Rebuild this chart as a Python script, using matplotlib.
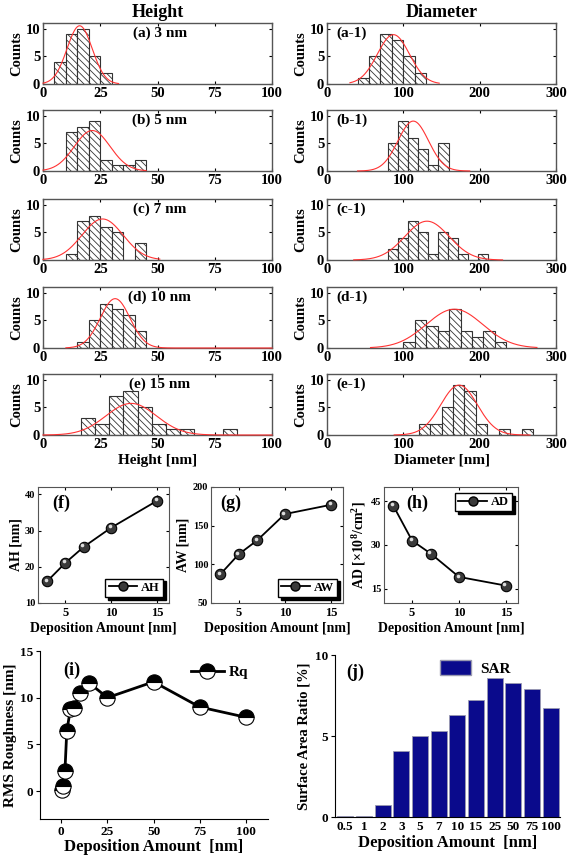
import numpy as np
import matplotlib
matplotlib.use("Agg")
import matplotlib.pyplot as plt
from matplotlib import transforms
from matplotlib.lines import Line2D
from matplotlib.patches import Patch

plt.rcParams["font.family"] = "Liberation Serif"
plt.rcParams["font.weight"] = "bold"
plt.rcParams["axes.labelweight"] = "bold"
plt.rcParams["axes.titleweight"] = "bold"
plt.rcParams["mathtext.fontset"] = "custom"
plt.rcParams["mathtext.rm"] = "Liberation Serif"
plt.rcParams["mathtext.bf"] = "Liberation Serif:bold"
plt.rcParams["hatch.linewidth"] = 0.6
plt.rcParams["hatch.color"] = "#303030"

# --- Data: height histograms (left column) ---
height_labels = ["(a) 3 nm", "(b) 5 nm", "(c) 7 nm", "(d) 10 nm", "(e) 15 nm"]
height_bin0 = [5, 10, 10, 15, 16.5]
height_binw = [5, 5, 5, 5, 6.2]
height_counts = [
    [4, 9, 10, 5, 2],
    [7, 8, 9, 2, 1, 1, 2],
    [1, 7, 8, 6, 5, 0, 3],
    [1, 5, 8, 7, 6, 3],
    [3, 2, 7, 8, 5, 2, 1, 1, 0, 0, 1],
]
# gaussian fit: centre, sigma, amplitude, drawn from, drawn to
height_fit = [
    (16.0, 5.5, 10.5, 0, 33),
    (21.5, 7.8, 7.3, 0, 45),
    (26.0, 9.0, 7.4, 0, 51),
    (31.5, 6.5, 8.9, 10, 100),
    (38.5, 11.0, 5.7, 0, 100),
]

# --- Data: diameter histograms (right column) ---
diam_labels = ["(a-1)", "(b-1)", "(c-1)", "(d-1)", "(e-1)"]
diam_bin0 = [40, 80, 79.5, 100, 120]
diam_binw = [15, 13.2, 13.1, 15, 15]
diam_counts = [
    [1, 5, 9, 8, 5, 2],
    [5, 9, 6, 4, 1, 5],
    [2, 4, 7, 5, 1, 5, 4, 1, 0, 1],
    [1, 5, 4, 3, 7, 3, 2, 3, 1],
    [2, 2, 5, 9, 8, 2, 0, 1, 0, 1],
]
diam_fit = [
    (87, 21, 8.9, 30, 147),
    (113, 20, 9.0, 40, 187),
    (131, 29, 7.0, 35, 230),
    (167, 37, 7.0, 57, 275),
    (173, 24, 9.0, 88, 266),
]

# --- Data: averages vs deposition amount ---
dep = [3, 5, 7, 10, 15]
AH = [16.0, 21.1, 25.5, 30.8, 38.2]
AH_err = [0.6, 0.7, 0.8, 1.0, 1.6]
AW = [87, 113, 131, 165, 177]
AW_err = [3, 4, 5, 7, 7]
AD = [43.5, 31.5, 27.0, 19.0, 16.0]
AD_err = [1.5, 1.0, 1.0, 0.8, 0.8]

# --- Data: roughness and surface area ratio ---
dep_all = [0.5, 1, 2, 3, 5, 7, 10, 15, 25, 50, 75, 100]
dep_all_labels = ["0.5", "1", "2", "3", "5", "7", "10", "15", "25", "50", "75", "100"]
Rq = [0.1, 0.5, 2.1, 6.4, 8.8, 8.9, 10.5, 11.6, 10.0, 11.7, 9.0, 7.9]
SAR = [0.05, 0.05, 0.75, 4.05, 5.0, 5.3, 6.3, 7.2, 8.6, 8.3, 7.9, 6.7]

W, H = 567, 855
fig = plt.figure(figsize=(W / 100, H / 100), dpi=100)


def box(x0, y0, x1, y1):
    # axes from pixel corners (top-left origin)
    return fig.add_axes([x0 / W, 1 - y1 / H, (x1 - x0) / W, (y1 - y0) / H])


def hist_panel(ax, bin0, binw, counts, fit, xmax, xticks):
    lefts = bin0 + binw * np.arange(len(counts))
    ax.bar(lefts, counts, width=binw, align="edge", facecolor="white",
           edgecolor="#333333", linewidth=0.8, hatch="\\\\\\\\\\", zorder=2)
    mu, sig, amp, xa, xb = fit
    xs = np.linspace(xa, xb, 300)
    ax.plot(xs, amp * np.exp(-((xs - mu) ** 2) / (2 * sig ** 2)),
            color="#ff3333", lw=0.8, zorder=3, clip_on=False)
    ax.set_xlim(0, xmax)
    ax.set_ylim(0, 11)
    ax.set_xticks(xticks)
    ax.set_yticks([0, 5, 10])
    ax.tick_params(direction="in", length=2.5, width=0.8, labelsize=10.5,
                   top=True, right=True, pad=2)
    for s in ax.spines.values():
        s.set_color("#555555")
        s.set_linewidth(1.0)
    ax.set_ylabel("Counts", fontsize=10.5, labelpad=2)


row_tops = [23, 110, 199, 287, 374]
for i, top in enumerate(row_tops):
    ax = box(43, top, 272, top + 61)
    hist_panel(ax, height_bin0[i], height_binw[i], height_counts[i],
               height_fit[i], 100, [0, 25, 50, 75, 100])
    ax.text(0.51, 0.84, height_labels[i], transform=ax.transAxes,
            ha="center", va="center", fontsize=11)
    if i == 0:
        ax.set_title("Height", fontsize=13, pad=4)
    if i == 4:
        ax.set_xlabel("Height [nm]", fontsize=11, labelpad=2)

    ax = box(327, top, 556, top + 61)
    hist_panel(ax, diam_bin0[i], diam_binw[i], diam_counts[i],
               diam_fit[i], 300, [0, 100, 200, 300])
    ax.text(0.04, 0.84, diam_labels[i], transform=ax.transAxes,
            ha="left", va="center", fontsize=11)
    if i == 0:
        ax.set_title("Diameter", fontsize=13, pad=4)
    if i == 4:
        ax.set_xlabel("Diameter [nm]", fontsize=11, labelpad=2)


def sphere_plot(ax, x, y, yerr):
    ax.errorbar(x, y, yerr=yerr, fmt="-", color="k", lw=1.3,
                elinewidth=0.8, capsize=0, zorder=2)
    ax.plot(x, y, "o", ms=7.5, mfc="#3a3a3a", mec="k", mew=0.8, zorder=3)
    hl = transforms.offset_copy(ax.transData, fig=fig, x=-1.0, y=1.0, units="points")
    ax.plot(x, y, "o", ms=2.6, mfc="#dddddd", mec="none", transform=hl, zorder=4)


def small_panel(ax, y, yerr, ylim, yticks, ylabel, tag, tag_x, name, loc):
    sphere_plot(ax, dep, y, yerr)
    ax.set_xlim(2, 16.3)
    ax.set_ylim(*ylim)
    ax.set_xticks([5, 10, 15])
    ax.set_yticks(yticks)
    ax.tick_params(direction="in", length=2.5, width=0.8, top=True, right=True)
    ax.tick_params(axis="x", labelsize=9, pad=3)
    ax.tick_params(axis="y", labelsize=7.5, pad=2)
    for s in ax.spines.values():
        s.set_color("#555555")
    ax.set_xlabel("Deposition Amount [nm]", fontsize=10, labelpad=2)
    ax.set_ylabel(ylabel, fontsize=10, labelpad=2)
    ax.text(tag_x, 0.86, tag, transform=ax.transAxes, ha="center", va="center", fontsize=13)
    h = Line2D([], [], color="k", lw=1.3, marker="o", ms=6.5, mfc="#3a3a3a", mec="k")
    ax.legend([h], [name], loc=loc, fancybox=False, edgecolor="k", framealpha=1,
              shadow={"color": "k", "alpha": 1}, fontsize=9, handlelength=2.3,
              borderpad=0.25, handletextpad=0.3, borderaxespad=0.5)


ax = box(38, 487, 169, 603)
small_panel(ax, AH, AH_err, (10, 42), [10, 20, 30, 40], "AH [nm]", "(f)", 0.18,
            "AH", "lower right")
ax = box(211, 487, 343, 603)
small_panel(ax, AW, AW_err, (50, 200), [50, 100, 150, 200], "AW [nm]", "(g)", 0.15,
            "AW", "lower right")
ax = box(384, 487, 518, 603)
small_panel(ax, AD, AD_err, (10, 50), [15, 30, 45],
            r"AD [$\mathbf{\times10^{8}/cm^{2}}$]", "(h)", 0.25, "AD", "upper right")

# --- (i) RMS roughness ---
ax = box(40, 651, 268, 819)
ax.plot(dep_all, Rq, color="k", lw=2.0, marker="o", ms=11, fillstyle="top",
        mfc="k", mfcalt="white", mec="k", mew=0.8, zorder=3, clip_on=False)
ax.set_xlim(-11.5, 112)
ax.set_ylim(-3, 15)
ax.set_xticks([0, 25, 50, 75, 100])
ax.set_yticks([0, 5, 10, 15])
ax.spines["top"].set_visible(False)
ax.spines["right"].set_visible(False)
ax.tick_params(labelsize=9.5, length=3, width=0.8, pad=2)
ax.set_xlabel("Deposition Amount  [nm]", fontsize=12, labelpad=1)
ax.set_ylabel("RMS Roughness [nm]", fontsize=11, labelpad=2)
ax.text(0.14, 0.885, "(i)", transform=ax.transAxes, ha="center", va="center", fontsize=13)
h = Line2D([], [], color="k", lw=2.0, marker="o", ms=11, fillstyle="top",
           mfc="k", mfcalt="white", mec="k", mew=0.8)
ax.legend([h], ["Rq"], loc="center left", bbox_to_anchor=(0.6, 0.875), frameon=False,
          fontsize=11, handlelength=2.2, handletextpad=0.3)

# --- (j) surface area ratio ---
ax = box(335, 655, 560, 817)
ax.bar(range(len(SAR)), SAR, width=0.85, color="#0a0a8c", edgecolor="#9a9ab0", linewidth=0.6)
ax.set_xlim(-0.55, 11.5)
ax.set_ylim(0, 10)
ax.set_xticks(range(len(SAR)))
ax.set_xticklabels(dep_all_labels)
ax.set_yticks([0, 5, 10])
ax.spines["top"].set_visible(False)
ax.spines["right"].set_visible(False)
ax.tick_params(axis="x", labelsize=9.5, length=0, pad=3)
ax.tick_params(axis="y", labelsize=9.5, length=3, width=0.8, pad=2)
ax.set_xlabel("Deposition Amount  [nm]", fontsize=12, labelpad=1)
ax.set_ylabel("Surface Area Ratio [%]", fontsize=10.5, labelpad=3)
ax.text(0.09, 0.895, "(j)", transform=ax.transAxes, ha="center", va="center", fontsize=13)
ax.legend([Patch(facecolor="#0a0a8c", edgecolor="#9a9ab0")], ["SAR"], loc="center right",
          bbox_to_anchor=(0.82, 0.92), frameon=False, fontsize=11, handlelength=2.0,
          handleheight=1.1, handletextpad=0.6, borderaxespad=0.2)

fig.savefig("out.png", dpi=100)
